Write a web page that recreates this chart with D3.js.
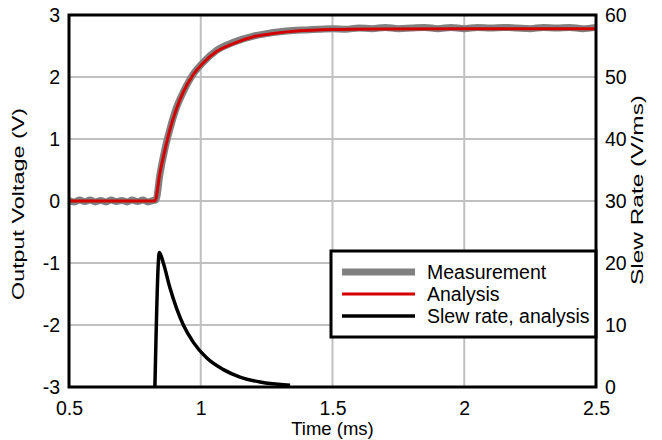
<!DOCTYPE html>
<html>
<head>
<meta charset="utf-8">
<script src="https://cdn.jsdelivr.net/npm/d3@7"></script>
<style>
  body { margin: 0; background: #fff; }
  svg text { font-family: Arial, "Liberation Sans", sans-serif; fill: #000; }
</style>
</head>
<body>
<div id="chart"></div>
<script>
// x ticks (ms), left ticks (V), right ticks (V/ms)
var xTicks = [0.5, 1, 1.5, 2, 2.5];
var yTicks = [-3, -2, -1, 0, 1, 2, 3];
var y2Ticks = [0, 10, 20, 30, 40, 50, 60];

// measured output voltage (noisy trace), [time ms, volts]
var measTime = [0.5, 0.52, 0.54, 0.56, 0.58, 0.6, 0.62, 0.64, 0.66, 0.68, 0.7, 0.72, 0.74, 0.76, 0.78, 0.8, 0.82,
    0.83, 0.845, 0.864, 0.883, 0.909, 0.934, 0.972, 1.01, 1.06, 1.124, 1.2, 1.25, 1.3, 1.35,
    1.4, 1.45, 1.5, 1.55, 1.6, 1.65, 1.7, 1.75, 1.8, 1.85, 1.9, 1.95, 2.0, 2.05, 2.1, 2.15, 2.2, 2.25, 2.3, 2.35, 2.4, 2.45, 2.5];
var measVolt = [0.01, -0.015, 0.015, -0.01, 0.015, -0.015, 0.01, -0.015, 0.015, -0.01, 0.01, -0.015, 0.015, -0.01, 0.015, -0.015, 0.01,
    0.02, 0.43, 0.84, 1.16, 1.52, 1.76, 2.05, 2.24, 2.43, 2.56, 2.66, 2.70, 2.73, 2.75,
    2.76, 2.77, 2.78, 2.77, 2.79, 2.78, 2.80, 2.78, 2.79, 2.80, 2.78, 2.80, 2.78, 2.80, 2.79, 2.80, 2.79, 2.78, 2.80, 2.79, 2.80, 2.78, 2.80];

// analysis output voltage
var anaTime = [0.5, 0.826, 0.845, 0.864, 0.883, 0.909, 0.934, 0.972, 1.01, 1.06, 1.124, 1.2, 1.275, 1.364, 1.5, 1.7, 2.0, 2.5];
var anaVolt = [0, 0, 0.45, 0.82, 1.15, 1.5, 1.76, 2.04, 2.23, 2.41, 2.54, 2.65, 2.70, 2.74, 2.765, 2.775, 2.78, 2.78];

// analysis slew rate (V/ms)
var slewTime = [0.826, 0.843, 0.858, 0.883, 0.909, 0.934, 0.972, 1.022, 1.086, 1.149, 1.225, 1.339];
var slewRate = [0, 21.7, 20.0, 16.0, 12.6, 10.0, 7.2, 4.7, 2.8, 1.6, 0.8, 0.3];

var legendNames = ["Measurement", "Analysis", "Slew rate, analysis"];
var legendColors = ["#808080", "#d40000", "#000000"];
var legendWidths = [7, 3, 3.5];

var W = 662, H = 440;
var PL = 69, PR = 596, PT = 15, PB = 387;

var svg = d3.select("#chart").append("svg")
    .attr("width", W)
    .attr("height", H);

var x = d3.scaleLinear().domain([0.5, 2.5]).range([PL, PR]);
var y = d3.scaleLinear().domain([-3, 3]).range([PB, PT]);
var y2 = d3.scaleLinear().domain([0, 60]).range([PB, PT]);

// grid
svg.append("g")
    .selectAll("line")
    .data(xTicks.slice(1, -1))
    .enter().append("line")
    .attr("x1", d => x(d)).attr("x2", d => x(d))
    .attr("y1", PT).attr("y2", PB)
    .attr("stroke", "#c0c0c0").attr("stroke-width", 2);

svg.append("g")
    .selectAll("line")
    .data(yTicks.slice(1, -1))
    .enter().append("line")
    .attr("x1", PL).attr("x2", PR)
    .attr("y1", d => y(d)).attr("y2", d => y(d))
    .attr("stroke", "#c0c0c0").attr("stroke-width", 2);

// curves
var lineV = d3.line()
    .x(d => x(d[0]))
    .y(d => y(d[1]))
    .curve(d3.curveMonotoneX);

var lineS = d3.line()
    .x(d => x(d[0]))
    .y(d => y2(d[1]))
    .curve(d3.curveMonotoneX);

svg.append("path")
    .datum(measTime.map((t, i) => [t, measVolt[i]]))
    .attr("d", lineV)
    .attr("fill", "none")
    .attr("stroke", "#808080")
    .attr("stroke-width", 7)
    .attr("stroke-linejoin", "round");

svg.append("path")
    .datum(anaTime.map((t, i) => [t, anaVolt[i]]))
    .attr("d", lineV)
    .attr("fill", "none")
    .attr("stroke", "#d40000")
    .attr("stroke-width", 3);

svg.append("path")
    .datum(slewTime.map((t, i) => [t, slewRate[i]]))
    .attr("d", lineS)
    .attr("fill", "none")
    .attr("stroke", "#000")
    .attr("stroke-width", 3.5)
    .attr("stroke-linejoin", "round");

// axes (labels only, frame drawn separately)
var fmt = d => String(d);
var xAxis = svg.append("g")
    .attr("transform", "translate(0," + PB + ")")
    .call(d3.axisBottom(x).tickValues(xTicks).tickSize(0).tickPadding(14).tickFormat(fmt));
var yAxis = svg.append("g")
    .attr("transform", "translate(" + PL + ",0)")
    .call(d3.axisLeft(y).tickValues(yTicks).tickSize(0).tickPadding(9).tickFormat(fmt));
var y2Axis = svg.append("g")
    .attr("transform", "translate(" + PR + ",0)")
    .call(d3.axisRight(y2).tickValues(y2Ticks).tickSize(0).tickPadding(9).tickFormat(fmt));

[xAxis, yAxis, y2Axis].forEach(function(g) {
    g.select(".domain").remove();
    g.selectAll("text")
        .style("font-size", "19.5px")
        .style("font-family", "Arial, 'Liberation Sans', sans-serif")
        .attr("fill", "#000");
});

// legend
var lg = svg.append("g");
lg.append("rect")
    .attr("x", 331).attr("y", 251)
    .attr("width", PR - 331).attr("height", 86)
    .attr("fill", "#fff")
    .attr("stroke", "#000").attr("stroke-width", 3);

legendNames.forEach(function(name, i) {
    var ly = 272 + i * 22;
    lg.append("line")
        .attr("x1", 342).attr("x2", 415)
        .attr("y1", ly).attr("y2", ly)
        .attr("stroke", legendColors[i])
        .attr("stroke-width", legendWidths[i]);
    lg.append("text")
        .attr("x", 427).attr("y", ly)
        .attr("dy", "0.35em")
        .style("font-size", "19.5px")
        .text(name);
});

// frame
svg.append("rect")
    .attr("x", PL).attr("y", PT)
    .attr("width", PR - PL).attr("height", PB - PT)
    .attr("fill", "none")
    .attr("stroke", "#000").attr("stroke-width", 3);

// axis titles
svg.append("text")
    .attr("x", (PL + PR) / 2).attr("y", 435)
    .attr("text-anchor", "middle")
    .style("font-size", "18.5px")
    .text("Time (ms)");

svg.append("text")
    .attr("transform", "translate(24,204) rotate(-90)")
    .attr("text-anchor", "middle")
    .attr("textLength", 192)
    .attr("lengthAdjust", "spacingAndGlyphs")
    .style("font-size", "16.5px")
    .text("Output Voltage  (V)");

svg.append("text")
    .attr("transform", "translate(643,190) rotate(-90)")
    .attr("text-anchor", "middle")
    .attr("textLength", 190)
    .attr("lengthAdjust", "spacingAndGlyphs")
    .style("font-size", "16.5px")
    .text("Slew Rate (V/ms)");
</script>
</body>
</html>
